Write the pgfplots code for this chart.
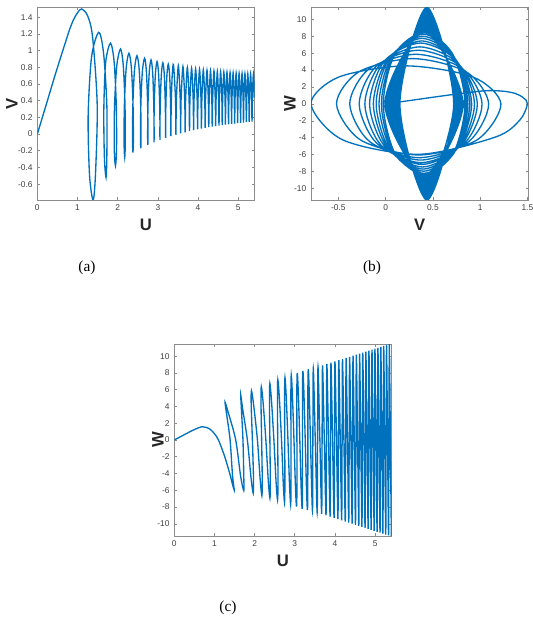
\documentclass[border=0pt]{standalone}
\usepackage{fontspec}
\setmainfont{Liberation Serif}
\setsansfont{Liberation Sans}
\usepackage{pgfplots}
\pgfplotsset{compat=1.18}
\usepackage{pgfplotstable}
\definecolor{mblue}{HTML}{0072BD}
\definecolor{axgray}{HTML}{8C8C8C}
\definecolor{tickgray}{HTML}{404040}

% trajectory: U, V, W
\pgfplotstableread{
U V W
0 0 0
0.15 0.24 0.38
0.30 0.48 0.76
0.45 0.72 1.13
0.60 0.95 1.45
0.70 1.10 1.58
0.80 1.25 1.50
0.90 1.37 1.25
1.00 1.455 0.75
1.10 1.50 0
1.25 1.42 -1.9
1.375 1.165 -3.9
1.49 0.355 -5.95
1.45 -0.455 -4.24
1.39 -0.79 0
1.30 -0.496 3.18
1.265 0.215 4.5
1.35 0.926 3.18
1.53 1.22 0
1.65 0.965 -4.26
1.73 0.35 -6.03
1.73 -0.265 -4.26
1.71 -0.52 0
1.67 -0.284 3.79
1.655 0.285 5.36
1.70 0.854 3.79
1.820 1.090 0
1.910 0.875 -4.49
1.965 0.355 -6.35
1.972 -0.165 -4.49
1.945 -0.380 0
1.915 -0.175 4.15
1.921 0.320 5.87
1.977 0.815 4.15
2.070 1.020 0
2.138 0.830 -4.69
2.181 0.370 -6.63
2.190 -0.090 -4.69
2.175 -0.280 0
2.159 -0.097 4.49
2.167 0.345 6.35
2.211 0.787 4.49
2.280 0.970 0
2.341 0.796 -4.91
2.381 0.375 -6.94
2.391 -0.046 -4.91
2.380 -0.220 0
2.369 -0.050 4.77
2.379 0.360 6.75
2.419 0.770 4.77
2.480 0.940 0
2.535 0.777 -5.06
2.571 0.385 -7.15
2.582 -0.007 -5.06
2.575 -0.170 0
2.568 -0.012 5.09
2.578 0.370 7.20
2.615 0.752 5.09
2.670 0.910 0
2.714 0.758 -5.27
2.744 0.390 -7.45
2.754 0.022 -5.27
2.750 -0.130 0
2.746 0.019 5.27
2.756 0.380 7.45
2.786 0.741 5.27
2.830 0.890 0
2.870 0.745 -5.45
2.897 0.395 -7.70
2.907 0.045 -5.45
2.905 -0.100 0
2.903 0.042 5.48
2.912 0.385 7.75
2.940 0.728 5.48
2.980 0.870 0
3.017 0.732 -5.62
3.043 0.400 -7.95
3.054 0.068 -5.62
3.053 -0.070 0
3.051 0.066 5.66
3.062 0.393 8.00
3.088 0.720 5.66
3.125 0.855 0
3.159 0.723 -5.80
3.183 0.405 -8.20
3.193 0.087 -5.80
3.193 -0.045 0
3.193 0.085 5.83
3.202 0.398 8.25
3.226 0.710 5.83
3.260 0.840 0
3.292 0.713 -5.90
3.315 0.408 -8.35
3.324 0.102 -5.90
3.325 -0.025 0
3.326 0.100 5.98
3.336 0.403 8.45
3.358 0.705 5.98
3.390 0.830 0
3.440 0.411 -8.46
3.450 -0.008 0
3.461 0.406 8.55
3.510 0.820 0
3.557 0.414 -8.64
3.568 0.008 0
3.578 0.409 8.73
3.625 0.810 0
3.669 0.416 -8.81
3.680 0.022 0
3.691 0.411 8.90
3.735 0.800 0
3.777 0.418 -8.98
3.788 0.035 0
3.799 0.413 9.06
3.840 0.790 0
3.879 0.419 -9.14
3.890 0.047 0
3.901 0.415 9.21
3.940 0.783 0
3.978 0.421 -9.29
3.989 0.058 0
4.000 0.418 9.37
4.038 0.777 0
4.074 0.422 -9.44
4.085 0.067 0
4.096 0.419 9.51
4.132 0.771 0
4.167 0.424 -9.58
4.178 0.076 0
4.188 0.421 9.65
4.223 0.766 0
4.256 0.425 -9.72
4.267 0.084 0
4.278 0.423 9.79
4.311 0.761 0
4.343 0.426 -9.85
4.354 0.091 0
4.365 0.424 9.92
4.397 0.757 0
4.428 0.427 -9.98
4.439 0.097 0
4.450 0.425 10.05
4.481 0.753 0
4.511 0.428 -10.11
4.522 0.103 0
4.533 0.426 10.18
4.563 0.749 0
4.593 0.429 -10.24
4.603 0.108 0
4.614 0.427 10.30
4.643 0.745 0
4.672 0.429 -10.36
4.682 0.113 0
4.692 0.428 10.42
4.721 0.742 0
4.749 0.430 -10.48
4.760 0.118 0
4.770 0.429 10.54
4.798 0.739 0
4.826 0.431 -10.60
4.836 0.123 0
4.846 0.430 10.65
4.874 0.736 0
4.901 0.432 -10.71
4.912 0.127 0
4.922 0.430 10.77
4.949 0.733 0
4.976 0.432 -10.83
4.986 0.131 0
4.996 0.431 10.88
5.023 0.730 0
5.049 0.433 -10.94
5.060 0.135 0
5.070 0.432 10.99
5.096 0.728 0
5.122 0.434 -11.05
5.132 0.139 0
5.142 0.433 11.10
5.168 0.726 0
5.193 0.435 -11.16
5.204 0.143 0
5.214 0.434 11.21
5.239 0.724 0
5.264 0.436 -11.27
5.274 0.147 0
5.284 0.435 11.32
5.309 0.722 0
5.334 0.437 -11.37
5.344 0.151 0
5.354 0.436 11.43
5.379 0.720 0
5.404 0.437 -11.48
}\traj

\pgfplotsset{mstyle/.style={
  scale only axis, width=163pt, anchor=south west,
  enlargelimits=false,
  axis line style={axgray, line width=0.5pt},
  tick align=inside, major tick length=2pt,
  tick style={axgray, line width=0.5pt},
  tick label style={font=\sffamily\fontsize{6.3}{7}\selectfont, text=tickgray},
  /pgf/number format/assume math mode=true,
  label style={font=\sffamily\bfseries\fontsize{12.5}{14}\selectfont, text=black!85},
  xlabel style={at={(axis description cs:0.5,-0.13)}, anchor=center},
}}

\begin{document}
\begin{tikzpicture}
\path[use as bounding box] (0,0) rectangle (399pt,468pt);

% (a) V vs U
\begin{axis}[mstyle, height=144.5pt, at={(28pt,318pt)},
  xmin=0, xmax=5.41, ymin=-0.79, ymax=1.52,
  xtick={0,1,2,3,4,5},
  ytick={-0.6,-0.4,-0.2,0,0.2,0.4,0.6,0.8,1,1.2,1.4},
  xlabel={U}, ylabel={V},
  ylabel style={at={(axis description cs:-0.117,0.5)}, anchor=center}]
\addplot[mblue, line width=1pt, smooth] table[x=U, y=V] {\traj};
\end{axis}

% (b) W vs V
\begin{axis}[mstyle, height=144.5pt, at={(233.25pt,318pt)},
  xmin=-0.79, xmax=1.51, ymin=-11.35, ymax=11.42,
  xtick={-0.5,0,0.5,1,1.5},
  ytick={-10,-8,-6,-4,-2,0,2,4,6,8,10},
  xlabel={V}, ylabel={W},
  ylabel style={at={(axis description cs:-0.097,0.5)}, anchor=center}]
\addplot[mblue, line width=1pt, smooth] table[x=V, y=W] {\traj};
\end{axis}

% (c) W vs U
\begin{axis}[mstyle, height=144pt, at={(130.7pt,66pt)},
  xmin=0, xmax=5.41, ymin=-11.45, ymax=11.45,
  xtick={0,1,2,3,4,5},
  ytick={-10,-8,-6,-4,-2,0,2,4,6,8,10},
  xlabel={U}, ylabel={W},
  ylabel style={at={(axis description cs:-0.075,0.5)}, anchor=center}]
\addplot[mblue, line width=1pt, smooth] table[x=U, y=W] {\traj};
\end{axis}

\node[font=\fontsize{11.5}{13}\selectfont] at (65.25pt,267pt) {(a)};
\node[font=\fontsize{11.5}{13}\selectfont] at (279pt,267pt) {(b)};
\node[font=\fontsize{11.5}{13}\selectfont] at (171pt,12pt) {(c)};
\end{tikzpicture}
\end{document}
